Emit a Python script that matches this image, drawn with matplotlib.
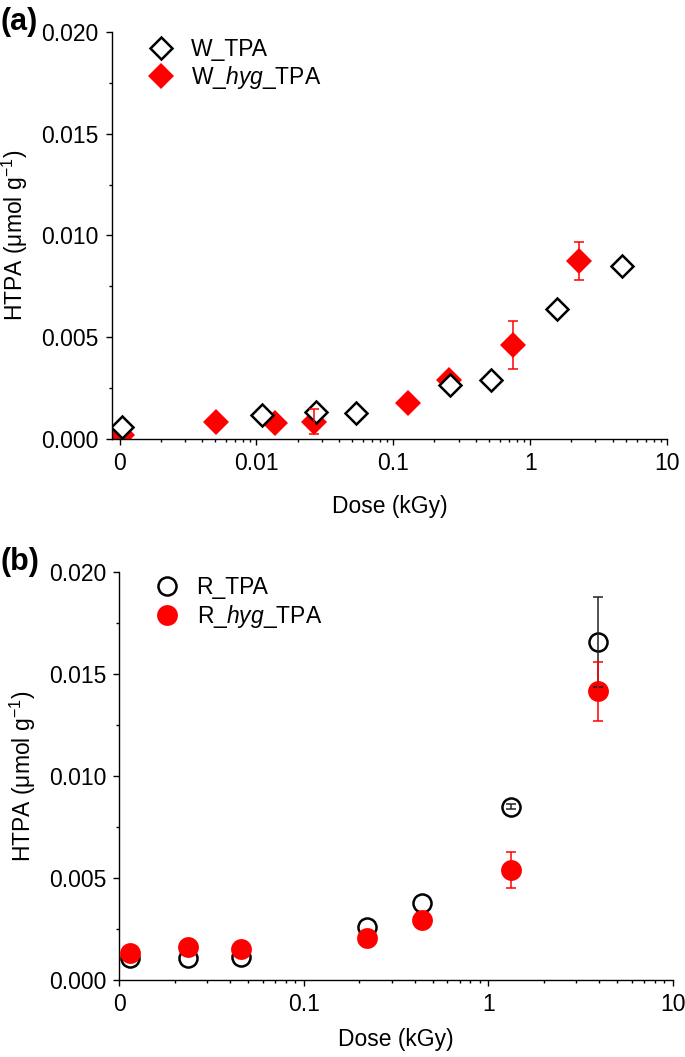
import numpy as np
import matplotlib
matplotlib.use('Agg')
import matplotlib.pyplot as plt
from matplotlib.ticker import NullFormatter

plt.rcParams['font.family'] = ['Liberation Sans', 'DejaVu Sans']
plt.rcParams['mathtext.fontset'] = 'custom'
plt.rcParams['mathtext.rm'] = 'Liberation Sans'
plt.rcParams['mathtext.it'] = 'Liberation Sans:italic'

# ---- panel (a) data: W series ----
w_dose = [0.00105, 0.0110, 0.0274, 0.0537, 0.258, 0.519, 1.57, 4.67]
w_htpa = [0.00058, 0.00118, 0.00134, 0.00129, 0.00265, 0.00290, 0.00637, 0.00850]

w_hyg_dose = [0.00105, 0.0051, 0.0136, 0.0265, 0.128, 0.254, 0.755, 2.28]
w_hyg_htpa = [0.00020, 0.00082, 0.00077, 0.00085, 0.00177, 0.00290, 0.00462, 0.00876]
w_hyg_err = [0, 0, 0, 0.00060, 0, 0, 0.00116, 0.00094]

# ---- panel (b) data: R series ----
r_dose = [0.0114, 0.0235, 0.0454, 0.219, 0.438, 1.32, 3.94]
r_htpa = [0.00104, 0.00104, 0.00112, 0.00259, 0.00378, 0.00849, 0.01659]
r_err = [0, 0, 0, 0, 0, 0.00013, 0.00220]

r_hyg_dose = [0.0114, 0.0235, 0.0454, 0.219, 0.438, 1.32, 3.94]
r_hyg_htpa = [0.00132, 0.00158, 0.00148, 0.00202, 0.00292, 0.00538, 0.01417]
r_hyg_err = [0, 0, 0, 0, 0, 0.00088, 0.00145]

a_ticks = [0.001, 0.01, 0.1, 1, 10]
a_labels = ['0', '0.01', '0.1', '1', '10']
b_ticks = [0.01, 0.1, 1, 10]
b_labels = ['0', '0.1', '1', '10']
y_ticks = [0, 0.005, 0.010, 0.015, 0.020]
y_labels = ['0.000', '0.005', '0.010', '0.015', '0.020']

FS = 16.5
RED = '#ff0000'

fig = plt.figure(figsize=(6.85, 10.57), dpi=100)
ax1 = fig.add_axes([0.1635, 0.5847, 0.8102, 0.3851])
ax2 = fig.add_axes([0.1742, 0.0733, 0.8079, 0.3852])


def errbars(ax, x, y, e, color, z):
    x, y, e = np.array(x), np.array(y), np.array(e)
    m = e > 0
    ax.errorbar(x[m], y[m], yerr=e[m], fmt='none', ecolor=color,
                elinewidth=1.1, capsize=3.5, capthick=1.1, zorder=z)


def style(ax, xlim, ticks, labels, decades, xpad):
    ax.set_xscale('log')
    ax.set_xlim(*xlim)
    ax.set_ylim(0, 0.020)
    ax.set_xticks(ticks, labels)
    ax.set_xticks([k * 10.0 ** d for d in decades for k in range(2, 10)], minor=True)
    ax.xaxis.set_minor_formatter(NullFormatter())
    ax.set_yticks(y_ticks, y_labels)
    ax.set_yticks([0.0025, 0.0075, 0.0125, 0.0175], minor=True)
    for s in ['top', 'right']:
        ax.spines[s].set_visible(False)
    for s in ['left', 'bottom']:
        ax.spines[s].set_linewidth(1.0)
    ax.tick_params(which='major', length=4.5, width=1.0, labelsize=FS, pad=5)
    ax.tick_params(which='minor', length=2.5, width=1.0)
    ax.set_xlabel('Dose (kGy)', fontsize=FS, labelpad=xpad)
    ax.set_ylabel('HTPA (μmol g$^{-1}$)', fontsize=FS, labelpad=8)


leg_kw = dict(loc='upper left', frameon=False, fontsize=FS, handlelength=1.0,
              handletextpad=0.8, labelspacing=0.15, borderaxespad=0,
              borderpad=0)

# panel (a)
ax1.plot(w_hyg_dose, w_hyg_htpa, 'D', color=RED, ms=13, mew=0, zorder=2,
         label='W_$\\mathit{hyg}$_TPA')
ax1.plot(w_dose, w_htpa, 'D', mfc='white', mec='black', ms=11.5, mew=1.8,
         zorder=3, label='W_TPA')
errbars(ax1, w_hyg_dose, w_hyg_htpa, w_hyg_err, RED, 4)
style(ax1, (0.00088, 10), a_ticks, a_labels, (-3, -2, -1, 0), 14)
h, l = ax1.get_legend_handles_labels()
ax1.legend(h[::-1], l[::-1], bbox_to_anchor=(0.068, 0.985), **leg_kw)

# panel (b)
ax2.plot(r_dose, r_htpa, 'o', mfc='white', mec='black', ms=13, mew=1.8,
         zorder=2, label='R_TPA')
ax2.plot(r_hyg_dose, r_hyg_htpa, 'o', color=RED, ms=15, mew=0, zorder=3,
         label='R_$\\mathit{hyg}$_TPA')
errbars(ax2, r_dose, r_htpa, r_err, '#222222', 4)
errbars(ax2, r_hyg_dose, r_hyg_htpa, r_hyg_err, RED, 4)
style(ax2, (0.01, 10), b_ticks, b_labels, (-2, -1, 0), 9)
ax2.legend(bbox_to_anchor=(0.065, 0.99), **leg_kw)

fig.text(0.0, 1 - 22 / 1057, '(a)', fontsize=22, fontweight='bold', va='center')
fig.text(0.0, 1 - 562 / 1057, '(b)', fontsize=22, fontweight='bold', va='center')

fig.savefig('out.png', dpi=100)
